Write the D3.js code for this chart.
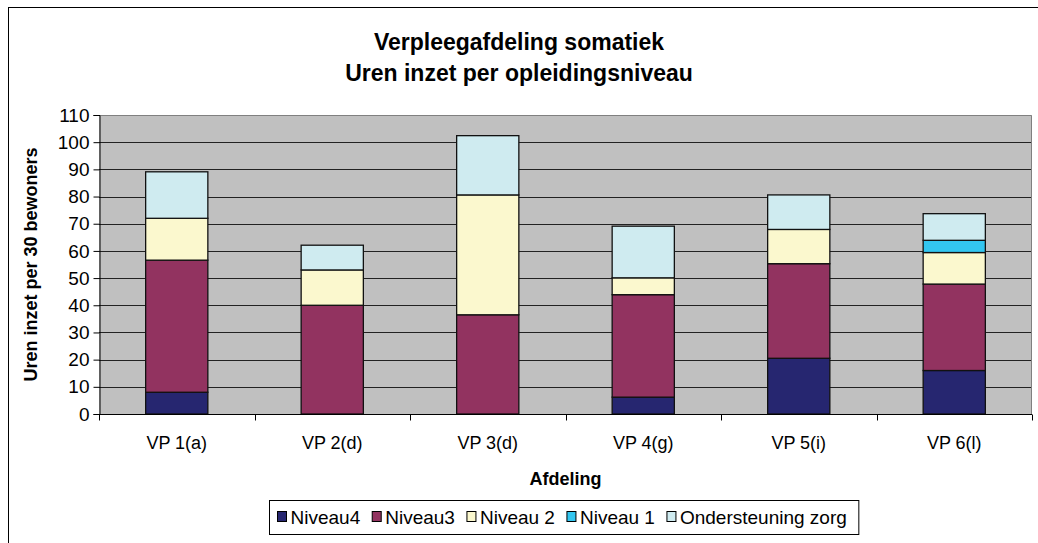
<!DOCTYPE html>
<html>
<head>
<meta charset="utf-8">
<script src="https://cdn.jsdelivr.net/npm/d3@7"></script>
<style>
    body { margin: 0; background: #fff; }
    text { font-family: "Liberation Sans", Arial, sans-serif; fill: #000; }
    .title { font-size: 23px; font-weight: bold; }
    .axis-title { font-size: 18px; font-weight: bold; }
    .tick-label { font-size: 18px; }
    .axis--y .tick-label { font-size: 19px; }
    .legend text { font-size: 19px; }
</style>
</head>
<body>
<svg id="chart" width="1038" height="543"></svg>
<script>
// afdelingen
var categories = ["VP 1(a)", "VP 2(d)", "VP 3(d)", "VP 4(g)", "VP 5(i)", "VP 6(l)"];

// uren per niveau (gelezen uit de grafiek)
var niveau4       = [8.0, 0, 0, 6.2, 20.5, 16.0];
var niveau3       = [48.6, 40.0, 36.5, 37.7, 34.8, 31.8];
var niveau2       = [15.4, 13.0, 44.1, 6.2, 12.6, 11.6];
var niveau1       = [0, 0, 0, 0, 0, 4.5];
var ondersteuning = [17.1, 9.1, 21.8, 19.0, 12.7, 9.8];

var seriesNames = ["Niveau4", "Niveau3", "Niveau 2", "Niveau 1", "Ondersteuning zorg"];
var seriesColors = ["#262670", "#923360", "#fbf8ce", "#33c6f0", "#cfebf0"];
var yTicks = [0, 10, 20, 30, 40, 50, 60, 70, 80, 90, 100, 110];

var svg = d3.select("#chart")
    , margin = {top: 115, right: 6, bottom: 129, left: 99}
    , width = 1038 - margin.left - margin.right
    , height = 543 - margin.top - margin.bottom
    ;

var seriesValues = [niveau4, niveau3, niveau2, niveau1, ondersteuning];

var rows = categories.map(function(c, i) {
    var r = {afdeling: c};
    seriesNames.forEach(function(s, j) { r[s] = seriesValues[j][i]; });
    return r;
});

var stacked = d3.stack().keys(seriesNames)(rows);

// outer frame (right and bottom fall outside the window)
svg.append("rect")
    .attr("x", 8.5)
    .attr("y", 7.5)
    .attr("width", 1040)
    .attr("height", 560)
    .attr("fill", "none")
    .attr("stroke", "#000");

svg.append("text")
    .attr("class", "title")
    .attr("x", 519)
    .attr("y", 50)
    .attr("text-anchor", "middle")
    .text("Verpleegafdeling somatiek");

svg.append("text")
    .attr("class", "title")
    .attr("x", 519)
    .attr("y", 81)
    .attr("text-anchor", "middle")
    .text("Uren inzet per opleidingsniveau");

var g = svg.append("g")
    .attr("transform", "translate(" + margin.left + "," + margin.top + ")");

var x = d3.scaleBand()
    .domain(categories)
    .range([0, width])
    .padding(0);

var y = d3.scaleLinear()
    .domain([0, 110])
    .range([height, 0]);

var barWidth = x.bandwidth() * 0.4;

// plot background
g.append("rect")
    .attr("width", width)
    .attr("height", height)
    .attr("fill", "#c0c0c0");

// gridlines
g.append("g")
    .selectAll("line")
    .data(yTicks.slice(1, -1))
    .enter()
    .append("line")
    .attr("x1", 0)
    .attr("x2", width)
    .attr("y1", function(d) { return Math.round(y(d)) + 0.5; })
    .attr("y2", function(d) { return Math.round(y(d)) + 0.5; })
    .attr("stroke", "#222");

// gray border top + right
g.append("path")
    .attr("d", "M0,0.5H" + (width - 0.5) + "V" + height)
    .attr("fill", "none")
    .attr("stroke", "#808080");

// bars
g.append("g")
    .selectAll("g")
    .data(stacked)
    .enter()
    .append("g")
    .attr("fill", function(d, i) { return seriesColors[i]; })
    .selectAll("rect")
    .data(function(d) { return d.filter(function(p) { return p[1] - p[0] > 0; }); })
    .enter()
    .append("rect")
    .attr("x", function(d) { return x(d.data.afdeling) + (x.bandwidth() - barWidth) / 2; })
    .attr("y", function(d) { return y(d[1]); })
    .attr("width", barWidth)
    .attr("height", function(d) { return y(d[0]) - y(d[1]); })
    .attr("stroke", "#111")
    .attr("stroke-width", 1.3);

// y axis
var yAxis = g.append("g")
    .attr("class", "axis axis--y")
    .attr("transform", "translate(0.5,0)")
    .call(d3.axisLeft(y).tickValues(yTicks).tickSize(6).tickPadding(4));

yAxis.select(".domain").attr("stroke", "#000");
yAxis.selectAll(".tick line").attr("stroke", "#000");
yAxis.selectAll(".tick text")
    .attr("class", "tick-label")
    .attr("font-size", null)
    .attr("font-family", null);

// x axis: ticks on category boundaries
var xAxis = g.append("g")
    .attr("class", "axis axis--x")
    .attr("transform", "translate(0," + (height + 0.5) + ")");

xAxis.append("line")
    .attr("x1", 0)
    .attr("x2", width)
    .attr("stroke", "#000");

xAxis.selectAll(".bound")
    .data(d3.range(categories.length + 1))
    .enter()
    .append("line")
    .attr("class", "bound")
    .attr("x1", function(i) { return Math.round(i * x.step()) + 0.5; })
    .attr("x2", function(i) { return Math.round(i * x.step()) + 0.5; })
    .attr("y1", 0)
    .attr("y2", 6)
    .attr("stroke", "#000");

xAxis.selectAll(".cat")
    .data(categories)
    .enter()
    .append("text")
    .attr("class", "tick-label")
    .attr("x", function(d) { return x(d) + x.bandwidth() / 2; })
    .attr("y", 34)
    .attr("text-anchor", "middle")
    .text(function(d) { return d; });

// axis titles
svg.append("text")
    .attr("class", "axis-title")
    .attr("transform", "translate(37," + (margin.top + height / 2) + ") rotate(-90)")
    .attr("text-anchor", "middle")
    .text("Uren inzet per 30 bewoners");

svg.append("text")
    .attr("class", "axis-title")
    .attr("x", margin.left + width / 2)
    .attr("y", 485)
    .attr("text-anchor", "middle")
    .text("Afdeling");

// legend
var legend = svg.append("g")
    .attr("class", "legend")
    .attr("transform", "translate(269.5,500.5)");

var legendBox = legend.append("rect")
    .attr("height", 34)
    .attr("fill", "#fff")
    .attr("stroke", "#000");

var cursor = 8;
seriesNames.forEach(function(name, i) {
    var item = legend.append("g").attr("transform", "translate(" + cursor + ",0)");
    item.append("rect")
        .attr("x", 0)
        .attr("y", 11)
        .attr("width", 9)
        .attr("height", 10)
        .attr("fill", seriesColors[i])
        .attr("stroke", "#000");
    var t = item.append("text")
        .attr("x", 13)
        .attr("y", 23)
        .text(name);
    cursor += 13 + t.node().getComputedTextLength() + 12;
});

legendBox.attr("width", cursor);
</script>
</body>
</html>
